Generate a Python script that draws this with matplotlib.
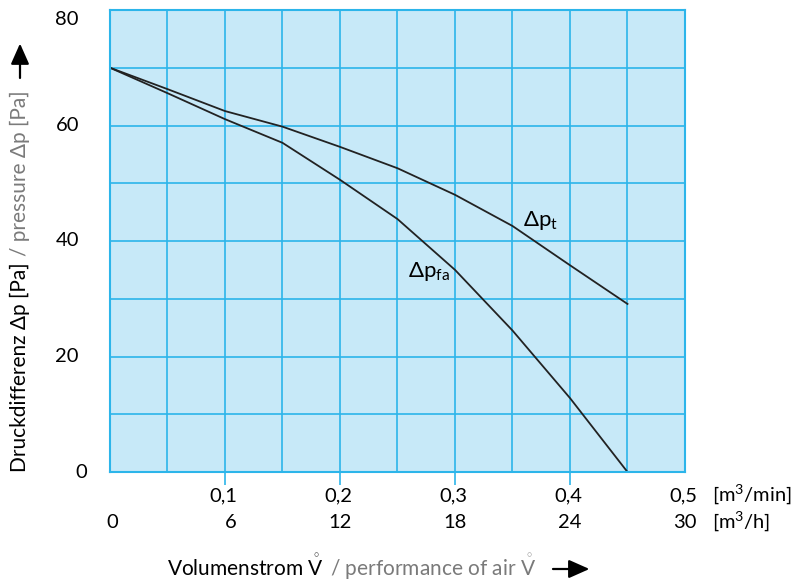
import matplotlib
matplotlib.use("Agg")
import matplotlib.pyplot as plt
import matplotlib.transforms as mtransforms
from matplotlib.patches import FancyArrowPatch

plt.rcParams['font.family'] = ['Lato', 'DejaVu Sans']
plt.rcParams['mathtext.fontset'] = 'custom'
plt.rcParams['mathtext.rm'] = 'Lato'
plt.rcParams['mathtext.it'] = 'Lato'

# curve data (x in m3/min, y in Pa)
flow = [0.0, 0.05, 0.10, 0.15, 0.20, 0.25, 0.30, 0.35, 0.40, 0.45]
dp_t = [70.0, 66.3, 62.5, 59.8, 56.3, 52.6, 48.0, 42.6, 35.8, 29.1]
dp_fa = [70.0, 65.6, 61.1, 57.0, 50.6, 43.8, 35.0, 24.5, 12.8, 0.0]

x_ticks_min = [0.1, 0.2, 0.3, 0.4, 0.5]
x_labels_min = ['0,1', '0,2', '0,3', '0,4', '0,5']
x_ticks_h = [0.0, 0.1, 0.2, 0.3, 0.4, 0.5]
x_labels_h = ['0', '6', '12', '18', '24', '30']
y_ticks = [0, 20, 40, 60, 80]

grid_blue = '#2cb5ea'
fill_blue = '#c7e9f8'
gray = '#7a7a7a'
fs = 14.5
fs_lab = 15

fig = plt.figure(figsize=(8.03, 5.82), dpi=100)
W, H = 803, 582
ax = fig.add_axes([110 / W, 1 - 472 / H, 575 / W, 462 / H])
ax.set_facecolor(fill_blue)
ax.set_xlim(0, 0.5)
ax.set_ylim(0, 80)

ax.set_xticks([0.1, 0.2, 0.3, 0.4])
ax.set_xticks([0.05, 0.15, 0.25, 0.35, 0.45], minor=True)
ax.set_yticks(range(0, 81, 10))
ax.tick_params(axis='x', which='major', direction='out', length=9, width=1.2,
               color=grid_blue, labelbottom=False)
ax.tick_params(axis='x', which='minor', length=0)
ax.tick_params(axis='y', length=0, labelleft=False)
ax.grid(True, which='both', color=grid_blue, linewidth=1.2)
for s in ax.spines.values():
    s.set_color(grid_blue)
    s.set_linewidth(1.5)

ax.plot(flow, dp_t, color='#222222', linewidth=1.3)
ax.plot(flow, dp_fa, color='#222222', linewidth=1.3)

ax.text(0.359, 42.6, r'$\Delta\mathrm{p}_{\mathrm{t}}$', fontsize=fs + 1.5, va='baseline', ha='left')
ax.text(0.259, 33.7, r'$\Delta\mathrm{p}_{\mathrm{fa}}$', fontsize=fs + 1.5, va='baseline', ha='left')

# x tick labels (two rows), right aligned slightly past the tick
row = mtransforms.blended_transform_factory(ax.transData, fig.transFigure)
off = mtransforms.ScaledTranslation(12 / 100, 0, fig.dpi_scale_trans)
for v, lab in zip(x_ticks_min, x_labels_min):
    fig.text(v, 1 - 501 / H, lab, transform=row + off, ha='right', va='baseline', fontsize=fs)
for v, lab in zip(x_ticks_h, x_labels_h):
    o = off if v > 0 else mtransforms.ScaledTranslation(8 / 100, 0, fig.dpi_scale_trans)
    fig.text(v, 1 - 528 / H, lab, transform=row + o, ha='right', va='baseline', fontsize=fs)
fig.text(712 / W, 1 - 501 / H, '[m$^3$/min]', ha='left', va='baseline', fontsize=fs)
fig.text(712 / W, 1 - 528 / H, '[m$^3$/h]', ha='left', va='baseline', fontsize=fs)

# y tick labels
col = mtransforms.blended_transform_factory(fig.transFigure, ax.transData)
for v in y_ticks:
    right = 87 if v == 0 else 79
    yv = v if v != 80 else 78.3
    fig.text(right / W, yv, str(v), transform=col, ha='right', va='center', fontsize=fs)

# axis titles built from pieces (black / gray) plus a filled arrow
fig.canvas.draw()
rend = fig.canvas.get_renderer()


def arrow(x0, y0, x1, y1):
    fig.add_artist(FancyArrowPatch((x0 / W, 1 - y0 / H), (x1 / W, 1 - y1 / H),
                                   transform=fig.transFigure, arrowstyle='-|>,head_length=0.9,head_width=0.4',
                                   mutation_scale=14, color='black', linewidth=1.6))


def chain_h(x0, y0, parts):
    x = x0
    for s, c in parts:
        t = fig.text(x / W, 1 - y0 / H, s, color=c, fontsize=fs_lab, ha='left', va='baseline')
        bb = t.get_window_extent(renderer=rend)
        x = bb.x1 + 6
    return x


def chain_v(xc, y0, parts):
    y = y0
    for s, c in parts:
        t = fig.text(xc / W, 1 - y / H, s, color=c, fontsize=fs_lab, ha='center', va='bottom',
                     rotation=90)
        bb = t.get_window_extent(renderer=rend)
        y = H - bb.y1 - 6
    return y


xe = chain_h(167, 576, [(r'Volumenstrom $\mathring{\mathrm{V}}$', 'black'),
                        (r'/ performance of air $\mathring{\mathrm{V}}$', gray)])
arrow(xe + 8, 569, xe + 50, 569)
ye = chain_v(20, 472, [('Druckdifferenz \u0394p [Pa]', 'black'), ('/ pressure \u0394p [Pa]', gray)])
arrow(20, ye - 4, 20, ye - 44)

fig.savefig('out.png', dpi=100)
